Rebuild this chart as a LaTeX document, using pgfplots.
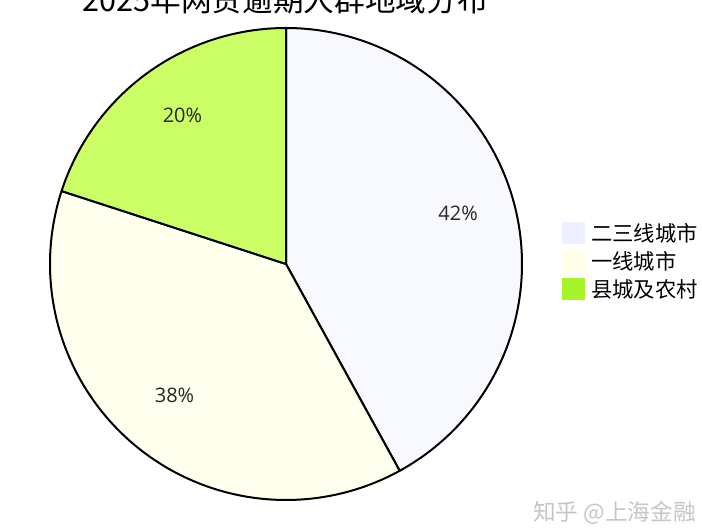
\documentclass[border=0pt]{standalone}
\usepackage{pgfplots}
\pgfplotsset{compat=1.18}
\usepgfplotslibrary{polar}
\usepackage{fontspec}
\setmainfont{Open Sans}
\newfontfamily\cjk{Noto Sans CJK SC}
\definecolor{cA}{HTML}{F8F8FF}
\definecolor{cB}{HTML}{FFFFEE}
\definecolor{cC}{HTML}{CCFF66}
\definecolor{lA}{HTML}{EEF0FF}
\definecolor{lB}{HTML}{FFFFE8}
\definecolor{lC}{HTML}{A6F52A}
\begin{document}
\begin{tikzpicture}
% shares (percent)
\pgfmathsetmacro{\pA}{42}
\pgfmathsetmacro{\pB}{38}
\pgfmathsetmacro{\pC}{20}
\pgfmathsetmacro{\aA}{90-3.6*\pA}
\pgfmathsetmacro{\aB}{\aA-3.6*\pB}
\begin{polaraxis}[
  scale only axis, width=354pt, height=354pt,
  ymin=0, ymax=1, hide axis, clip=false,
  legend style={at={(axis cs:8.65,1.183)}, anchor=north west, draw=none, fill=none,
    inner sep=0pt, row sep=4.5pt, column sep=4.5pt,
    font=\cjk\fontsize{16pt}{19pt}\selectfont,
    nodes={inner sep=0pt, text height=14.25pt, text depth=2.25pt}},
  legend cell align=left,
  legend image code/.code={\fill[#1,draw=none] (0pt,-8.25pt) rectangle (17.25pt,8.25pt);},
]
\addlegendimage{fill=lA}\addlegendentry{二三线城市}
\addlegendimage{fill=lB}\addlegendentry{一线城市}
\addlegendimage{fill=lC}\addlegendentry{县城及农村}
\addplot[forget plot, fill=cA, draw=black, line width=1.5pt, line join=round, domain=\aA:90, samples=150] {1} -- (axis cs:0,0) -- cycle;
\addplot[forget plot, fill=cB, draw=black, line width=1.5pt, line join=round, domain=\aB:\aA, samples=150] {1} -- (axis cs:0,0) -- cycle;
\addplot[forget plot, fill=cC, draw=black, line width=1.5pt, line join=round, domain=90:\aB+360, samples=80] {1} -- (axis cs:0,0) -- cycle;
\node[font=\fontsize{15pt}{18pt}\selectfont, text=black!85] at (axis cs:16.4,0.76) {42\%};
\node[font=\fontsize{15pt}{18pt}\selectfont, text=black!85] at (axis cs:229.6,0.729) {38\%};
\node[font=\fontsize{15pt}{18pt}\selectfont, text=black!85] at (axis cs:124.8,0.769) {20\%};
\coordinate (C) at (axis cs:0,0);
\end{polaraxis}
\begin{scope}[shift={(C)}, x=0.75pt, y=0.75pt]
\node[font=\cjk\fontsize{23pt}{27pt}\selectfont, anchor=base, inner sep=0pt] at (-1,252) {2025年网贷逾期人群地域分布};
\node[font=\cjk\fontsize{17pt}{20pt}\selectfont, text=gray!45, anchor=west, inner sep=0pt] at (247,-249) {知乎 @上海金融};
\end{scope}
\pgfresetboundingbox
\path[shift={(C)}, x=0.75pt, y=0.75pt, use as bounding box] (-286,264) rectangle (416,-266);
\end{tikzpicture}
\end{document}
